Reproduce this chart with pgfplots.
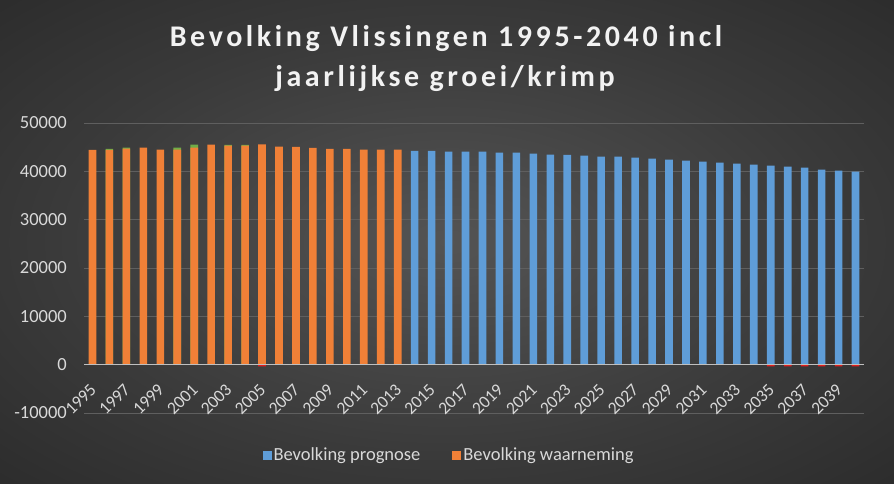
\documentclass[border=0pt]{standalone}
\usepackage{fontspec}
\setmainfont{Carlito}
\usepackage{pgfplots}
\pgfplotsset{compat=1.18}
\usepackage{pgfplotstable}

\definecolor{bgA}{RGB}{84,84,84}
\definecolor{bgB}{RGB}{58,58,58}
\definecolor{bgC}{RGB}{30,30,30}
\definecolor{txtc}{RGB}{217,217,217}
\definecolor{titlec}{RGB}{242,242,242}
\definecolor{gridc}{RGB}{95,95,95}
\definecolor{zeroc}{RGB}{191,191,191}
\definecolor{obsc}{RGB}{240,128,55}
\definecolor{progc}{RGB}{95,157,216}
\definecolor{groeic}{RGB}{112,173,71}
\definecolor{krimpc}{RGB}{225,30,30}

\pgfdeclareradialshading{bgshade}{\pgfpoint{0bp}{0bp}}{color(0bp)=(bgA); color(22bp)=(bgB); color(50bp)=(bgC)}

\pgfplotstableread{
year obs groei prog krimp
1995 44420 nan nan nan
1996 44430 200 nan nan
1997 44700 200 nan nan
1998 44900 nan nan nan
1999 44490 nan nan nan
2000 44500 400 nan nan
2001 44920 600 nan nan
2002 45520 nan nan nan
2003 45300 150 nan nan
2004 45300 150 nan nan
2005 45590 nan nan -350
2006 45110 nan nan nan
2007 45040 nan nan nan
2008 44835 nan nan nan
2009 44630 nan nan nan
2010 44630 nan nan nan
2011 44490 nan nan nan
2012 44490 nan nan nan
2013 44490 nan nan nan
2014 nan nan 44215 nan
2015 nan nan 44215 nan
2016 nan nan 44077 nan
2017 nan nan 44077 nan
2018 nan nan 44077 nan
2019 nan nan 43870 nan
2020 nan nan 43870 nan
2021 nan nan 43664 nan
2022 nan nan 43457 nan
2023 nan nan 43390 nan
2024 nan nan 43250 nan
2025 nan nan 43043 nan
2026 nan nan 43043 nan
2027 nan nan 42837 nan
2028 nan nan 42630 nan
2029 nan nan 42424 nan
2030 nan nan 42217 nan
2031 nan nan 42011 nan
2032 nan nan 41804 nan
2033 nan nan 41598 nan
2034 nan nan 41391 nan
2035 nan nan 41185 -350
2036 nan nan 40978 -350
2037 nan nan 40771 -350
2038 nan nan 40358 -350
2039 nan nan 40151 -350
2040 nan nan 39945 -350
}\bev

\begin{document}
\begin{tikzpicture}
\shade[shading=bgshade] (0pt,0pt) rectangle (894pt,484pt);

\node[anchor=base, text=titlec, font=\fontsize{30}{36}\selectfont\bfseries\addfontfeatures{LetterSpace=12}] at (446pt,437pt) {Bevolking Vlissingen 1995-2040 incl};
\node[anchor=base, text=titlec, font=\fontsize{30}{36}\selectfont\bfseries\addfontfeatures{LetterSpace=12}] at (445pt,397pt) {jaarlijkse groei/krimp};

\begin{axis}[
  at={(84pt,71pt)}, anchor=south west,
  scale only axis, width=780pt, height=290pt,
  xmin=1994.5, xmax=2040.5, ymin=-10000, ymax=50000,
  scaled y ticks=false, scaled x ticks=false,
  ytick={-10000,0,10000,20000,30000,40000,50000},
  yticklabels={-10000,0,10000,20000,30000,40000,50000},
  xtick={1995,1997,1999,2001,2003,2005,2007,2009,2011,2013,2015,2017,2019,2021,2023,2025,2027,2029,2031,2033,2035,2037,2039},
  xticklabels={},
  ybar, bar width=7.6pt,
  axis line style={draw=none},
  major tick length=0pt,
  ymajorgrids, grid style={gridc, line width=0.9pt},
  yticklabel style={font=\fontsize{18.5}{22}\selectfont, text=txtc, anchor=east, inner sep=0pt, xshift=-17pt},
  legend style={at={(0.468,-0.145)}, anchor=center, draw=none, fill=none, text=txtc,
    font=\fontsize{18.5}{22}\selectfont, /tikz/every even column/.append style={column sep=30pt}},
  legend columns=2, reverse legend,
  legend image code/.code={\fill[#1] (0pt,-4.5pt) rectangle (9pt,4.5pt);},
  clip=false,
]
\addplot[fill=groeic, draw=none, bar shift=0pt, forget plot] table[x=year, y expr=\thisrow{obs}+\thisrow{groei}] {\bev};
\addplot[fill=obsc, draw=none, bar shift=0pt] table[x=year, y=obs] {\bev};
\addlegendentry{Bevolking waarneming}
\addplot[fill=progc, draw=none, bar shift=0pt] table[x=year, y=prog] {\bev};
\addlegendentry{Bevolking prognose}
\addplot[fill=krimpc, draw=none, bar shift=0pt, forget plot] table[x=year, y=krimp] {\bev};
\draw[zeroc, line width=1.3pt] (axis cs:1994.5,0) -- (axis cs:2040.5,0);
\pgfplotsinvokeforeach{1995,1997,1999,2001,2003,2005,2007,2009,2011,2013,2015,2017,2019,2021,2023,2025,2027,2029,2031,2033,2035,2037,2039}{
  \node[font=\fontsize{17.5}{20}\selectfont, text=txtc, inner sep=0pt, rotate=45, anchor=east] at ([xshift=0.8pt,yshift=-22pt]axis cs:#1,0) {#1};
}
\end{axis}
\pgfresetboundingbox
\useasboundingbox (0pt,0pt) rectangle (894pt,484pt);
\end{tikzpicture}
\end{document}
